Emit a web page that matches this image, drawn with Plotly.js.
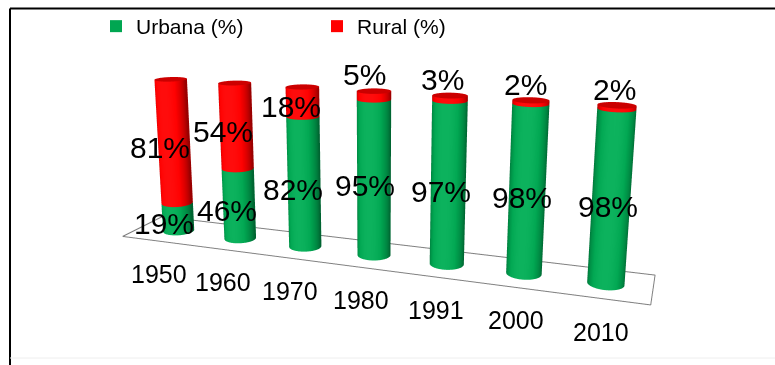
<!DOCTYPE html>
<html><head><meta charset="utf-8">
<script src="https://cdn.plot.ly/plotly-3.0.1.min.js"></script>
<style>
html,body{margin:0;padding:0;background:#fff;width:775px;height:365px;overflow:hidden;position:relative}
#chart{position:absolute;left:-401px;top:-215px;width:1550px;height:730px}
</style>
</head><body><div id="chart"></div>
<script>
const years = ['1950','1960','1970','1980','1991','2000','2010'];
const urbana = [19,46,82,95,97,98,98];
const rural = [81,54,18,5,3,2,2];
const seriesNames = ['Urbana (%)','Rural (%)'];
const seriesColors = ['#00A651','#FF0000'];

// oversized canvas (narrower effective field of view) placed so the window shows its upper-middle part
const W = 1550, H = 730, OFFX = 401, OFFY = 215;
const px = v => (v + OFFX) / W;           // window x pixel -> paper fraction
const py = v => 1 - (v + OFFY) / H;       // window y pixel -> paper fraction

const RADIUS = 0.22, NSEG = 48;
function cylinderMesh(segments) {
  const x=[],y=[],z=[],i=[],j=[],k=[];
  segments.forEach(s => {
    const base = x.length;
    for (let r=0;r<2;r++){
      for (let a=0;a<NSEG;a++){ const t=2*Math.PI*a/NSEG;
        x.push(s.cx+RADIUS*Math.cos(t)); y.push(s.cy+RADIUS*Math.sin(t)); z.push(r?s.z1:s.z0); }
    }
    for (let a=0;a<NSEG;a++){ const b=(a+1)%NSEG;
      i.push(base+a); j.push(base+b); k.push(base+NSEG+a);
      i.push(base+b); j.push(base+NSEG+b); k.push(base+NSEG+a); }
    const cap = x.length;
    x.push(s.cx); y.push(s.cy); z.push(s.z1);
    for (let a=0;a<NSEG;a++){ const t=2*Math.PI*a/NSEG;
      x.push(s.cx+RADIUS*Math.cos(t)); y.push(s.cy+RADIUS*Math.sin(t)); z.push(s.z1); }
    for (let a=0;a<NSEG;a++){ i.push(cap); j.push(cap+1+a); k.push(cap+1+(a+1)%NSEG); }
  });
  return {x,y,z,i,j,k};
}

const idx = years.map((_,n)=>n);
const urbanSegs = idx.map(n=>({cx:n, cy:0, z0:0, z1:urbana[n]}));
const ruralSegs = idx.map(n=>({cx:n, cy:0, z0:urbana[n], z1:urbana[n]+rural[n]}));

const lighting = {ambient:0.6, diffuse:0.55, specular:0.2, roughness:0.5, fresnel:0.1};
const traces = [];
[urbanSegs, ruralSegs].forEach((segs,s)=>{
  const m = cylinderMesh(segs);
  traces.push(Object.assign({type:'mesh3d', color:seriesColors[s], flatshading:false,
    lighting:lighting, lightposition:{x:-100, y:-200, z:300}, hoverinfo:'skip', showlegend:false, showscale:false}, m));
});
const fx = [-0.6, 6.55, 6.55, -0.6, -0.6];
const fy = [-0.5, -0.5, 0.5, 0.5, -0.5];
traces.push({type:'scatter3d', mode:'lines', x:fx, y:fy, z:fx.map(()=>0),
  line:{color:'#808080', width:2}, hoverinfo:'skip', showlegend:false});
seriesNames.forEach((nm,s)=>traces.push({type:'scatter', x:[null], y:[null], mode:'markers', name:nm,
  marker:{symbol:'square', size:12, color:seriesColors[s]}, hoverinfo:'skip'}));

const LBL = {size:30, family:'Arial', color:'#000'};
const ann = [];
idx.forEach(n=>{
  ann.push({x:n, y:-0.35, z:urbana[n]/2, text:urbana[n]+'%', showarrow:false,
    font:LBL, xanchor:'center', yanchor:'middle'});
  const small = rural[n] < 10;
  ann.push({x:n, y:-0.35, z: small ? urbana[n]+rural[n] : urbana[n]+rural[n]/2, text:rural[n]+'%', showarrow:false,
    font:LBL, xanchor:'center', yanchor: small?'bottom':'middle', yshift: small?2:0});
  ann.push({x:n, y:-0.5, z:0, text:years[n], showarrow:false,
    font:{size:25, family:'Arial', color:'#000'}, xanchor:'center', yanchor:'top', yshift:-17});
});

const hidden = {visible:false, showbackground:false, showgrid:false, zeroline:false, showticklabels:false, title:{text:''}};
const AX = 1.9, AY = 0.4, AZ = 0.77;
const layout = {
  width:W, height:H, margin:{l:0,r:0,t:0,b:0},
  paper_bgcolor:'#fff', plot_bgcolor:'rgba(0,0,0,0)',
  xaxis:{visible:false}, yaxis:{visible:false},
  showlegend:true,
  legend:{orientation:'h', x:px(96), xanchor:'left', y:py(6), yanchor:'top', bgcolor:'rgba(0,0,0,0)',
    entrywidth:176, entrywidthmode:'pixels', font:{size:21, family:'Arial', color:'#000'}},
  scene:{
    domain:{x:[0,1], y:[0,1]},
    bgcolor:'rgba(0,0,0,0)',
    xaxis:Object.assign({range:[-0.8,6.8]}, hidden),
    yaxis:Object.assign({range:[-0.8,0.8]}, hidden),
    zaxis:Object.assign({range:[-30,110]}, hidden),
    aspectmode:'manual', aspectratio:{x:AX, y:AY, z:AZ},
    camera:{eye:{x:0.949, y:-2.609, z:0.779}, center:{x:0, y:0, z:0.1375}, up:{x:0,y:0,z:1}, projection:{type:'perspective'}},
    annotations:ann
  },
  shapes:[
    {type:'line', xref:'paper', yref:'paper', x0:px(10), x1:px(775), y0:py(8.5), y1:py(8.5), line:{color:'#000', width:2}, layer:'above'},
    {type:'line', xref:'paper', yref:'paper', x0:px(10), x1:px(10), y0:py(365), y1:py(8.5), line:{color:'#000', width:2}, layer:'above'},
    {type:'line', xref:'paper', yref:'paper', x0:px(10), x1:px(775), y0:py(358), y1:py(358), line:{color:'#eeeeee', width:1}, layer:'above'}
  ]
};
Plotly.newPlot('chart', traces, layout, {displayModeBar:false}).then(gd=>{
  const sc = gd._fullLayout.scene && gd._fullLayout.scene._scene;
  if (sc && sc.glplot && sc.glplot.redraw) sc.glplot.redraw();
});
</script></body></html>
